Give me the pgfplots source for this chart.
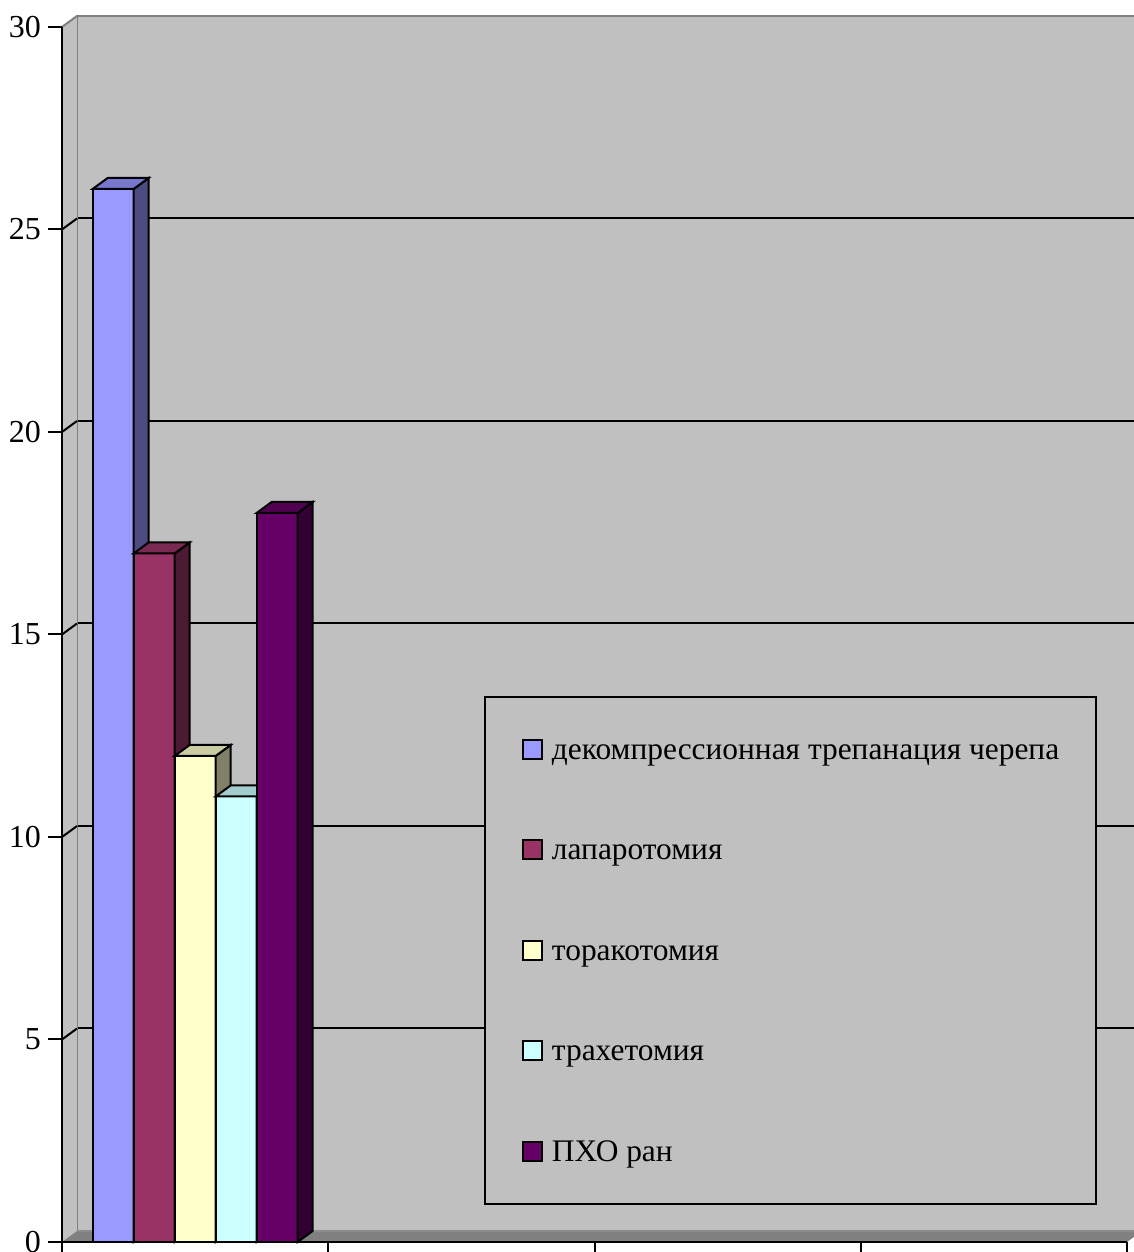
\documentclass[border=0pt]{standalone}
\usepackage{fontspec}
\setmainfont{Liberation Serif}
\usepackage{pgfplots}
\usepackage{pgfplotstable}
\pgfplotsset{compat=1.18}

\definecolor{wallgray}{HTML}{C0C0C0}
\definecolor{floorgray}{HTML}{808080}
\definecolor{edgegray}{HTML}{808080}
\definecolor{frontA}{HTML}{9999FF}\definecolor{sideA}{HTML}{4C4C80}\definecolor{topA}{HTML}{7777CC}
\definecolor{frontB}{HTML}{993366}\definecolor{sideB}{HTML}{4D1A33}\definecolor{topB}{HTML}{7A2952}
\definecolor{frontC}{HTML}{FFFFCC}\definecolor{sideC}{HTML}{808066}\definecolor{topC}{HTML}{CCCCA3}
\definecolor{frontD}{HTML}{CCFFFF}\definecolor{sideD}{HTML}{668080}\definecolor{topD}{HTML}{A3CCCC}
\definecolor{frontE}{HTML}{660066}\definecolor{sideE}{HTML}{330033}\definecolor{topE}{HTML}{520052}

% one table per series: category position and value
\pgfplotstableread{
x y
0.5 26
}\tA
\pgfplotstableread{
x y
0.5 17
}\tB
\pgfplotstableread{
x y
0.5 12
}\tC
\pgfplotstableread{
x y
0.5 11
}\tD
\pgfplotstableread{
x y
0.5 18
}\tE

% a 3-D column drawn from the top centre of its front face
% #1 bar shift (pt), #2 front, #3 side, #4 top colour; \barval is the value
\newcommand\colfaces[4]{%
  \pgfmathsetmacro\xl{#1-10.25}%
  \pgfmathsetmacro\xr{#1+10.25}%
  \pgfmathsetmacro\xlb{#1-10.25+7.5}%
  \pgfmathsetmacro\hh{\barval*20.25}%
  \filldraw[fill=#2,draw=black,line width=1pt,line join=miter]
    (\xl pt,0pt) rectangle (\xr pt,-\hh pt);
  \filldraw[fill=#3,draw=black,line width=1pt,line join=miter]
    (\xr pt,0pt) -- ++(7.5pt,5.5pt) -- ++(0pt,-\hh pt) -- (\xr pt,-\hh pt) -- cycle;
  \filldraw[fill=#4,draw=black,line width=1pt,line join=miter]
    (\xl pt,0pt) -- (\xr pt,0pt) -- ++(7.5pt,5.5pt) -- (\xlb pt,5.5pt) -- cycle;
}
\pgfdeclareplotmark{colA}{\colfaces{-41}{frontA}{sideA}{topA}}
\pgfdeclareplotmark{colB}{\colfaces{-20.5}{frontB}{sideB}{topB}}
\pgfdeclareplotmark{colC}{\colfaces{0}{frontC}{sideC}{topC}}
\pgfdeclareplotmark{colD}{\colfaces{20.5}{frontD}{sideD}{topD}}
\pgfdeclareplotmark{colE}{\colfaces{41}{frontE}{sideE}{topE}}

\pgfplotsset{
  sqlegend/.style={legend image code/.code={%
    \draw[##1,draw=black,line width=1pt] (0pt,-4.75pt) rectangle (9.5pt,4.75pt);}},
  front/.style={ybar, bar width=20.5pt, draw=black, line width=1pt, forget plot},
  faces/.style={scatter, only marks, point meta=y,
    scatter/use mapped color={draw=black,fill=black},
    visualization depends on={rawy \as \barval}, forget plot},
}

\begin{document}
\begin{tikzpicture}
\useasboundingbox (0,0) rectangle (567pt,626pt);
\begin{scope}[overlay]

% back wall with its gridlines
\begin{axis}[
  at={(38.5pt,10.5pt)}, anchor=south west, scale only axis,
  width=532.5pt, height=607.5pt,
  xmin=0, xmax=4, ymin=0, ymax=30,
  axis background/.style={fill=wallgray},
  axis line style={draw=none},
  xtick=\empty, ytick={5,10,15,20,25}, yticklabels={},
  tick style={draw=none},
  ymajorgrids, grid style={black, line width=1pt},
  clip=false,
]
\draw[edgegray, line width=1pt] (rel axis cs:0,0) -- (rel axis cs:0,1) -- (rel axis cs:1,1);
\end{axis}

% side wall, floor, columns and axes
\begin{axis}[
  at={(31pt,5pt)}, anchor=south west, scale only axis,
  width=532.5pt, height=607.5pt,
  xmin=0, xmax=4, ymin=0, ymax=30,
  clip=false, axis on top,
  axis x line*=bottom, axis y line*=left,
  axis line style={black, line width=1pt},
  xtick={0,1,2,3,4}, xticklabels={},
  ytick={0,5,...,30},
  tick align=outside, major tick length=7pt,
  tick style={black, line width=1pt},
  ticklabel style={font=\fontsize{16pt}{19pt}\selectfont},
  /pgf/number format/assume math mode=true,
  sqlegend,
  legend cell align=left,
  legend style={at={(0.39624,0.44938)}, anchor=north west,
    draw=black, line width=1pt, fill=wallgray,
    inner xsep=18.5pt, inner ysep=21pt, row sep=39.75pt, column sep=4.5pt,
    font=\fontsize{15.7pt}{19pt}\selectfont,
    nodes={inner sep=0pt, text height=10pt, text depth=0pt}},
]
\fill[wallgray] (axis cs:0,0) -- (axis cs:0,30) -- ([shift={(7.5pt,5.5pt)}]axis cs:0,30)
  -- ([shift={(7.5pt,5.5pt)}]axis cs:0,0) -- cycle;
\pgfplotsinvokeforeach{5,10,15,20,25}{
  \draw[black, line width=1pt] (axis cs:0,#1) -- ++(7.5pt,5.5pt);
}
\draw[edgegray, line width=1pt] (axis cs:0,30) -- ++(7.5pt,5.5pt);
\fill[floorgray] (axis cs:0,0) -- (axis cs:4,0) -- ++(7.5pt,5.5pt)
  -- ([shift={(7.5pt,5.5pt)}]axis cs:0,0) -- cycle;
\draw[gray!90, line width=0.6pt] ([shift={(7.5pt,5.5pt)}]axis cs:0,0) -- ([shift={(7.5pt,5.5pt)}]axis cs:4,0);

\addplot[front, bar shift=-41pt, fill=frontA] table {\tA};
\addplot[front, bar shift=-20.5pt, fill=frontB] table {\tB};
\addplot[front, bar shift=0pt, fill=frontC] table {\tC};
\addplot[front, bar shift=20.5pt, fill=frontD] table {\tD};
\addplot[front, bar shift=41pt, fill=frontE] table {\tE};
\addplot[faces, mark=colA] table {\tA};
\addplot[faces, mark=colB] table {\tB};
\addplot[faces, mark=colC] table {\tC};
\addplot[faces, mark=colD] table {\tD};
\addplot[faces, mark=colE] table {\tE};

\addlegendimage{fill=frontA}\addlegendentry{декомпрессионная трепанация черепа}
\addlegendimage{fill=frontB}\addlegendentry{лапаротомия}
\addlegendimage{fill=frontC}\addlegendentry{торакотомия}
\addlegendimage{fill=frontD}\addlegendentry{трахетомия}
\addlegendimage{fill=frontE}\addlegendentry{ПХО ран}
\end{axis}
\end{scope}
\end{tikzpicture}
\end{document}
